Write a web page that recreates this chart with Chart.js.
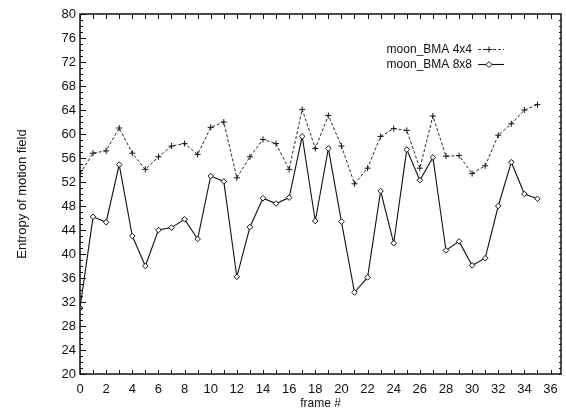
<!DOCTYPE html>
<html>
<head>
<meta charset="utf-8">
<script src="https://cdn.jsdelivr.net/npm/chart.js@4.4.0/dist/chart.umd.min.js"></script>
<style>
  html, body { margin: 0; padding: 0; background: #fff; }
  #wrap { width: 566px; height: 413px; }
</style>
</head>
<body>
<div id="wrap"><canvas id="entropyChart" width="566" height="413"></canvas></div>
<script>
const frames = [0, 1, 2, 3, 4, 5, 6, 7, 8, 9, 10, 11, 12, 13, 14, 15, 16, 17,
                18, 19, 20, 21, 22, 23, 24, 25, 26, 27, 28, 29, 30, 31, 32, 33, 34, 35];
const bma4x4 = [53.4, 56.8, 57.2, 61.0, 56.8, 54.1, 56.2, 58.0, 58.4, 56.6, 61.1, 62.0,
                52.7, 56.2, 59.1, 58.4, 54.1, 64.1, 57.6, 63.1, 58.0, 51.7, 54.3, 59.6,
                60.9, 60.6, 54.3, 63.0, 56.3, 56.4, 53.4, 54.7, 59.8, 61.7, 64.0, 64.9];
const bma8x8 = [31.0, 46.2, 45.3, 54.9, 43.0, 38.0, 44.0, 44.4, 45.8, 42.5, 53.0, 52.1,
                36.2, 44.5, 49.3, 48.4, 49.4, 59.6, 45.5, 57.6, 45.4, 33.6, 36.1, 50.5,
                41.8, 57.4, 52.3, 56.1, 40.6, 42.1, 38.1, 39.3, 48.0, 55.3, 50.0, 49.2];
const seriesNames = ['moon_BMA 4x4', 'moon_BMA 8x8'];
const xTickStep = 2;
const yTickStep = 4;

const ink = '#111';
const fontFamily = '"Liberation Sans", Arial, sans-serif';

function toPoints(values) {
    return frames.map((f, i) => ({ x: f, y: values[i] }));
}

// frame, inward ticks and the little legend in the corner
const frameTicks = {
    id: 'frameTicks',
    afterDraw(chart) {
        const { ctx, chartArea: a, scales: { x, y } } = chart;
        ctx.save();
        ctx.strokeStyle = ink;
        ctx.lineWidth = 1;
        ctx.beginPath();
        for (let v = 0; v <= 36; v++) {
            const px = Math.round(x.getPixelForValue(v)) + 0.5;
            ctx.moveTo(px, a.bottom); ctx.lineTo(px, a.bottom - 4);
            ctx.moveTo(px, a.top); ctx.lineTo(px, a.top + 5);
        }
        for (let v = 20; v <= 80; v++) {
            const py = Math.round(y.getPixelForValue(v)) + 0.5;
            const len = v % 4 === 0 ? 6 : 3;
            ctx.moveTo(a.left, py); ctx.lineTo(a.left + len, py);
            ctx.moveTo(a.right, py); ctx.lineTo(a.right - 2, py);
        }
        ctx.stroke();
        ctx.lineWidth = 1.5;
        ctx.strokeRect(a.left, a.top, a.right - a.left, a.bottom - a.top);

        // legend
        const textRight = a.right - 89;
        const x0 = a.right - 83, x1 = a.right - 57;
        const rows = [a.top + 35, a.top + 50];
        ctx.font = '12px ' + fontFamily;
        ctx.fillStyle = ink;
        ctx.textAlign = 'right';
        ctx.textBaseline = 'middle';
        chart.data.datasets.forEach((ds, i) => {
            const ly = rows[i] + 0.5;
            ctx.fillText(ds.label, textRight, ly);
            ctx.beginPath();
            ctx.lineWidth = ds.borderWidth;
            ctx.setLineDash(ds.borderDash || []);
            ctx.moveTo(x0, ly); ctx.lineTo(x1, ly);
            ctx.stroke();
            ctx.setLineDash([]);
            const cx = x0 + 11;
            ctx.lineWidth = 1;
            ctx.beginPath();
            if (ds.pointStyle === 'cross') {
                ctx.moveTo(cx - 3, ly); ctx.lineTo(cx + 3, ly);
                ctx.moveTo(cx, ly - 3); ctx.lineTo(cx, ly + 3);
                ctx.stroke();
            } else {
                ctx.moveTo(cx, ly - 3); ctx.lineTo(cx + 3, ly);
                ctx.lineTo(cx, ly + 3); ctx.lineTo(cx - 3, ly);
                ctx.closePath();
                ctx.fillStyle = '#fff';
                ctx.fill();
                ctx.stroke();
                ctx.fillStyle = ink;
            }
        });
        ctx.restore();
    }
};

new Chart(document.getElementById('entropyChart'), {
    type: 'line',
    data: {
        datasets: [{
            label: seriesNames[0],
            data: toPoints(bma4x4),
            borderColor: ink,
            borderWidth: 0.9,
            borderDash: [3, 2],
            pointStyle: 'cross',
            pointRadius: 3,
            pointBorderWidth: 1,
            pointBorderColor: ink,
            tension: 0
        }, {
            label: seriesNames[1],
            data: toPoints(bma8x8),
            borderColor: ink,
            borderWidth: 1.1,
            pointStyle: 'rectRot',
            pointRadius: 2.8,
            pointBorderWidth: 1,
            pointBorderColor: ink,
            pointBackgroundColor: '#fff',
            tension: 0
        }]
    },
    options: {
        responsive: false,
        animation: false,
        maintainAspectRatio: false,
        devicePixelRatio: 1,
        layout: { padding: { top: 14, right: 1, bottom: 2, left: 15 } },
        plugins: {
            legend: { display: false },
            tooltip: { enabled: false }
        },
        scales: {
            x: {
                type: 'linear',
                min: 0,
                max: 36.8,
                afterFit: s => { s.height = 37; },
                ticks: {
                    stepSize: xTickStep,
                    includeBounds: false,
                    autoSkip: false,
                    color: ink,
                    padding: 8,
                    maxRotation: 0,
                    font: { family: fontFamily, size: 13 }
                },
                grid: { drawOnChartArea: false, drawTicks: false },
                border: { display: false },
                title: {
                    display: true,
                    text: 'frame #',
                    color: ink,
                    padding: 0,
                    font: { family: fontFamily, size: 12 }
                }
            },
            y: {
                min: 20,
                max: 80,
                afterFit: s => { s.width = 65; },
                ticks: {
                    stepSize: yTickStep,
                    autoSkip: false,
                    color: ink,
                    padding: 4,
                    font: { family: fontFamily, size: 13 }
                },
                grid: { drawOnChartArea: false, drawTicks: false },
                border: { display: false },
                title: {
                    display: true,
                    text: 'Entropy of motion field',
                    color: ink,
                    padding: 0,
                    font: { family: fontFamily, size: 13 }
                }
            }
        }
    },
    plugins: [frameTicks]
});
</script>
</body>
</html>
